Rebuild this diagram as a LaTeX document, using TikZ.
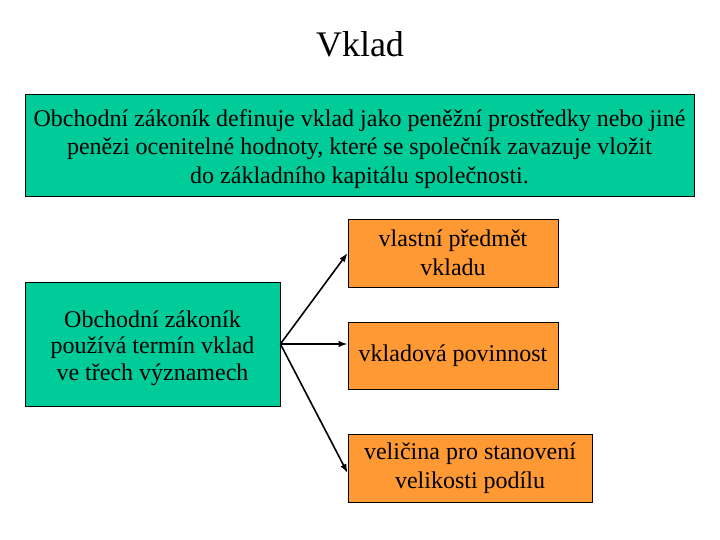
\documentclass[tikz,border=0pt]{standalone}
\usepackage{fontspec}
\setmainfont{Liberation Serif}
\usetikzlibrary{arrows, arrows.meta, calc}

\definecolor{zelena}{RGB}{0,204,153}
\definecolor{oranzova}{RGB}{255,153,51}

\begin{document}
\begin{tikzpicture}[x=1pt, y=-1pt,
    box/.style={draw=black, line width=0.8pt, align=center, inner sep=0pt,
      font=\fontsize{24}{28.5}\selectfont},
    zbox/.style={box, fill=zelena},
    obox/.style={box, fill=oranzova},
    sipka/.style={-{Latex[length=9pt,width=6.5pt]}, line width=1.6pt}]
  \useasboundingbox (0,0) rectangle (720,540);
  \node[anchor=base, font=\fontsize{36}{43}\selectfont] (nadpis) at (360,57) {Vklad};
  \node[zbox, minimum width=669pt, minimum height=102pt] (definice) at (359.5,145)
    {\rule{0pt}{25pt}Obchodní zákoník definuje vklad jako peněžní prostředky nebo jiné\\
     penězi ocenitelné hodnoty, které se společník zavazuje vložit\\
     do základního kapitálu společnosti.};
  \node[zbox, minimum width=255pt, minimum height=124pt, font=\fontsize{24}{26.8}\selectfont] (termin) at (152.5,344)
    {\rule{0pt}{25pt}Obchodní zákoník\\používá termín vklad\\ve třech významech};
  \node[obox, minimum width=210pt, minimum height=68pt] (predmet) at (453,253)
    {vlastní předmět\\vkladu};
  \node[obox, minimum width=210pt, minimum height=67pt] (povinnost) at (453,355.5)
    {vkladová povinnost};
  \node[obox, minimum width=244pt, minimum height=68pt] (velicina) at (470,468)
    {veličina pro stanovení\\velikosti podílu};
  % sipky
  \draw[sipka] (termin.east) -- (predmet.west);
  \draw[sipka] (termin.east) -- (termin.east -| povinnost.west);
  \draw[sipka] (termin.east) -- ($(velicina.west)+(0,5)$);
\end{tikzpicture}
\end{document}
